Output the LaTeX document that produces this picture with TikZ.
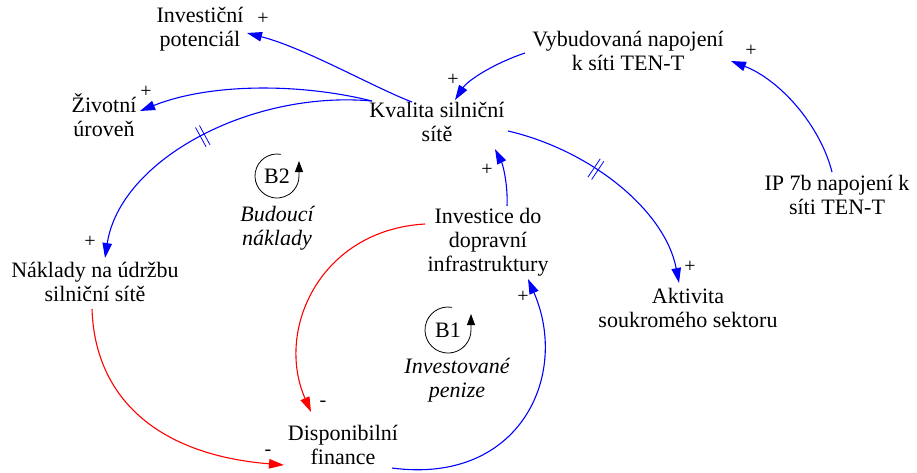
\documentclass[tikz,border=0pt]{standalone}
\usepackage{fontspec}
\setmainfont{Liberation Serif}
\usetikzlibrary{arrows.meta,calc,decorations.markings}
\begin{document}
\begin{tikzpicture}[x=1pt,y=-1pt,
  var/.style={align=center,inner sep=0pt,font=\fontsize{22}{24}\selectfont,
    execute at begin node=\strut,execute at end node=\strut},
  pol/.style={inner sep=0pt,font=\fontsize{20}{24}\selectfont},
  loopname/.style={inner sep=0pt,font=\fontsize{22}{24}\selectfont},
  loopdesc/.style={var,font=\fontsize{22}{24}\selectfont\itshape},
  link/.style={line width=1.1pt,-{Triangle[length=15pt,width=9.5pt]}},
  pos link/.style={link,blue},
  neg link/.style={link,red},
  delay/.style={postaction={decorate},decoration={markings,
    mark=at position #1 with {\draw[-,blue,line width=0.8pt]
      (-2.2pt,-11pt) -- (-2.2pt,11pt) (2.2pt,-11pt) -- (2.2pt,11pt);}}},
  loopsym/.style={black,line width=0.8pt,-{Triangle[length=11pt,width=8pt]}}
]
\useasboundingbox (0,0) rectangle (917,472);

% variables
\node[var] (inv)  at (200,30)  {Investiční\\potenciál};
\node[var] (ziv)  at (104,119) {Životní\\úroveň};
\node[var] (kval) at (437,125) {Kvalita silniční\\sítě};
\node[var] (vyb)  at (628,54)  {Vybudovaná napojení\\k síti TEN-T};
\node[var] (ip)   at (837,198) {IP 7b napojení k\\síti TEN-T};
\node[var] (inf)  at (488,243) {Investice do\\dopravní\\infrastruktury};
\node[var] (nak)  at (95,285)  {Náklady na údržbu\\silniční sítě};
\node[var] (akt)  at (688,311) {Aktivita\\soukromého sektoru};
\node[var] (disp) at (343,448) {Disponibilní\\finance};

% causal links
\draw[pos link] ($(kval)+(-25,-23)$) .. controls (375,88) and (305,48) .. ($(inv)+(47,3)$);
\draw[pos link] ($(kval)+(-65,-24)$) .. controls (300,83) and (210,83) .. ($(ziv)+(36,-8)$);
\draw[pos link,delay=0.52] ($(kval)+(-65,-24)$) .. controls (250,90) and (120,160) .. ($(nak)+(10,-27)$);
\draw[pos link] ($(vyb)+(-103,-1)$) .. controls (495,63) and (468,80) .. ($(kval)+(18,-25)$);
\draw[pos link] ($(ip)+(-5,-26)$) .. controls (820,125) and (780,80) .. ($(vyb)+(103,7)$);
\draw[pos link,delay=0.4] ($(kval)+(71,6)$) .. controls (590,150) and (665,210) .. ($(akt)+(-9,-28)$);
\draw[pos link] ($(inf)+(19,-37)$) .. controls (508,185) and (503,165) .. ($(kval)+(58,24)$);
\draw[neg link] ($(inf)+(-63,-19)$) .. controls (320,230) and (275,330) .. ($(disp)+(-32,-36)$);
\draw[neg link] ($(nak)+(-3,24)$) .. controls (95,400) and (160,455) .. ($(disp)+(-59,17)$);
\draw[pos link] ($(disp)+(49,20)$) .. controls (520,485) and (570,375) .. ($(inf)+(40,36)$);

% polarities
\node[pol] (s1) at (263,19)  {+};
\node[pol] (s2) at (146,92)  {+};
\node[pol] (s3) at (453,80)  {+};
\node[pol] (s4) at (751,51)  {+};
\node[pol] (s5) at (487,170) {+};
\node[pol] (s6) at (90,242)  {+};
\node[pol] (s7) at (690,267) {+};
\node[pol] (s8) at (523,297) {+};
\node[pol] (s9) at (323,404) {-};
\node[pol] (s10) at (268,453) {-};

% loop markers
\node[loopname] (b2) at (277,176) {B2};
\draw[loopsym] ($(b2)+(-80:22)$) arc[start angle=-80,end angle=-360,radius=22] -- ++(0,-15);
\node[loopdesc] (b2d) at (277,229) {Budoucí\\náklady};
\node[loopname] (b1) at (448,330) {B1};
\draw[loopsym] ($(b1)+(-80:23)$) arc[start angle=-80,end angle=-360,radius=23] -- ++(0,-16);
\node[loopdesc] (b1d) at (457,381) {Investované\\penize};
\end{tikzpicture}
\end{document}
